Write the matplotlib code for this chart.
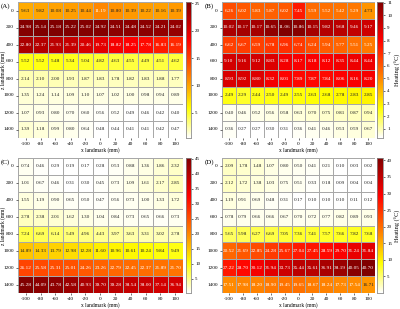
import numpy as np
import matplotlib
matplotlib.use("Agg")
import matplotlib.pyplot as plt
import seaborn as sns
from matplotlib.colors import LinearSegmentedColormap

plt.rcParams['font.family'] = 'serif'
plt.rcParams['font.serif'] = ['Liberation Serif', 'DejaVu Serif']

# x / z landmark positions (mm)
x_landmark = [-100, -80, -60, -40, -20, 0, 20, 40, 60, 80, 100]
z_landmark = [0, 200, 400, 600, 800, 1000, 1200, 1400]

heat_a = [
    [9.63, 9.82, 10.08, 10.25, 10.44, 11.19, 10.80, 10.39, 10.22, 10.16, 10.39],
    [24.98, 25.14, 25.18, 25.22, 25.02, 24.92, 24.51, 24.48, 24.52, 24.21, 24.02],
    [22.80, 22.37, 21.93, 21.39, 20.46, 19.73, 18.82, 18.25, 17.78, 16.83, 16.19],
    [5.52, 5.52, 5.48, 5.34, 5.04, 4.82, 4.63, 4.55, 4.49, 4.51, 4.62],
    [2.14, 2.10, 2.00, 1.93, 1.87, 1.83, 1.78, 1.82, 1.83, 1.88, 1.77],
    [1.35, 1.24, 1.14, 1.09, 1.10, 1.07, 1.02, 1.00, 0.98, 0.94, 0.89],
    [1.07, 0.93, 0.80, 0.70, 0.60, 0.56, 0.52, 0.49, 0.46, 0.42, 0.40],
    [1.39, 1.18, 0.99, 0.80, 0.64, 0.48, 0.44, 0.41, 0.41, 0.42, 0.47],
]
heat_b = [
    [6.26, 6.02, 5.83, 5.87, 6.02, 7.45, 5.59, 5.52, 5.42, 5.29, 4.73],
    [10.02, 10.17, 10.17, 10.65, 11.06, 10.86, 10.15, 9.82, 9.68, 9.46, 9.17],
    [6.62, 6.67, 6.59, 6.78, 6.96, 6.74, 6.24, 5.94, 5.77, 5.51, 5.25],
    [9.10, 9.16, 9.12, 8.83, 8.28, 8.17, 8.18, 8.12, 8.35, 8.44, 8.44],
    [8.93, 8.92, 8.80, 8.32, 8.01, 7.89, 7.87, 7.84, 8.06, 8.16, 8.20],
    [2.49, 2.29, 2.44, 2.50, 2.49, 2.55, 2.63, 2.68, 2.78, 2.83, 2.85],
    [0.40, 0.46, 0.52, 0.56, 0.58, 0.63, 0.70, 0.75, 0.81, 0.87, 0.94],
    [0.36, 0.27, 0.27, 0.30, 0.31, 0.36, 0.41, 0.46, 0.53, 0.59, 0.67],
]
heat_c = [
    [0.74, 0.46, 0.29, 0.19, 0.17, 0.28, 0.53, 0.88, 1.36, 1.86, 2.32],
    [1.01, 0.67, 0.46, 0.31, 0.30, 0.45, 0.73, 1.09, 1.61, 2.17, 2.85],
    [1.55, 1.19, 0.90, 0.65, 0.50, 0.47, 0.56, 0.73, 1.00, 1.33, 1.72],
    [2.78, 2.38, 2.01, 1.62, 1.30, 1.04, 0.84, 0.73, 0.65, 0.66, 0.73],
    [7.24, 6.69, 6.14, 5.49, 4.96, 4.43, 3.97, 3.63, 3.31, 3.02, 2.78],
    [14.89, 14.33, 13.79, 12.98, 12.28, 11.60, 10.96, 10.61, 10.24, 9.84, 9.49],
    [26.12, 25.58, 25.31, 25.01, 24.26, 23.26, 22.79, 22.45, 22.37, 21.89, 21.70],
    [45.28, 44.09, 43.78, 42.58, 40.93, 39.70, 39.28, 38.54, 38.00, 37.14, 36.94],
]
heat_d = [
    [2.09, 1.78, 1.48, 1.07, 0.80, 0.50, 0.41, 0.21, 0.10, 0.03, 0.02],
    [2.12, 1.72, 1.38, 1.03, 0.75, 0.51, 0.33, 0.18, 0.09, 0.04, 0.04],
    [1.19, 0.91, 0.69, 0.48, 0.31, 0.17, 0.10, 0.10, 0.10, 0.11, 0.12],
    [0.78, 0.79, 0.66, 0.66, 0.67, 0.70, 0.72, 0.77, 0.82, 0.89, 0.93],
    [5.65, 5.98, 6.27, 6.69, 7.05, 7.36, 7.41, 7.57, 7.66, 7.82, 7.68],
    [20.52, 21.69, 22.85, 24.28, 25.67, 27.04, 27.45, 28.59, 29.70, 31.24, 31.84],
    [27.22, 28.70, 30.12, 31.94, 33.73, 35.44, 35.61, 36.91, 38.19, 40.05, 40.70],
    [17.51, 17.98, 18.20, 18.90, 19.45, 19.65, 18.67, 18.24, 17.73, 17.54, 16.71],
]

cbar_ticks_a = [5, 10, 15, 20, 25]
cbar_ticks_b = [1, 2, 3, 4, 5, 6, 7, 8, 9, 10, 11]
cbar_ticks_c = [5, 10, 15, 20, 25, 30, 35, 40, 45]
cbar_ticks_d = [5, 10, 15, 20, 25, 30, 35, 40]

cmap = LinearSegmentedColormap.from_list(
    "heat", [(0.0, "#ffffff"), (0.22, "#ffff00"), (0.45, "#ff8000"),
             (0.72, "#ff0000"), (1.0, "#800000")])

fig = plt.figure(figsize=(4.0, 3.09), dpi=100)
W, H = 400.0, 309.0

panels = [
    ("(A)", heat_a, cbar_ticks_a, (18, 2, 183, 138), (186, 191), False),
    ("(B)", heat_b, cbar_ticks_b, (222, 2, 375, 138), (377, 383), True),
    ("(C)", heat_c, cbar_ticks_c, (18, 158, 183, 293), (186, 191), False),
    ("(D)", heat_d, cbar_ticks_d, (222, 158, 375, 293), (377, 383), True),
]

for tag, data, cticks, (x0, y0, x1, y1), (c0, c1), has_label in panels:
    ax = fig.add_axes([x0 / W, 1 - y1 / H, (x1 - x0) / W, (y1 - y0) / H])
    cax = fig.add_axes([c0 / W, 1 - y1 / H, (c1 - c0) / W, (y1 - y0) / H])
    sns.heatmap(np.array(data), ax=ax, cbar_ax=cax, cmap=cmap,
                annot=True, fmt=".2f", annot_kws={"size": 3.8},
                linewidths=0.4, linecolor="#a8a8a8",
                xticklabels=x_landmark, yticklabels=z_landmark)
    ax.tick_params(labelsize=3.8, length=1.5, width=0.4, pad=1.5)
    ax.set_yticklabels(z_landmark, rotation=0)
    ax.set_xticklabels(x_landmark, rotation=0)
    ax.set_xlabel("x landmark (mm)", fontsize=4, labelpad=1)
    if x0 < 100:
        ax.set_ylabel("z landmark (mm)", fontsize=4)
        ax.yaxis.set_label_coords((6 - x0) / (x1 - x0), 0.5)
    cax.set_yticks(cticks)
    cax.tick_params(labelsize=3.6, length=1.5, width=0.4, pad=1.5)
    for s in cax.spines.values():
        s.set_visible(True)
        s.set_linewidth(0.4)
        s.set_edgecolor("#888888")
    if has_label:
        cax.set_ylabel("Heating (\u00b0C)", fontsize=4.5, labelpad=2)
    fig.text((x0 - 17) / W, 1 - (y0 + 4) / H, tag, fontsize=5,
             ha="left", va="center")

fig.savefig("out.png", dpi=100)
